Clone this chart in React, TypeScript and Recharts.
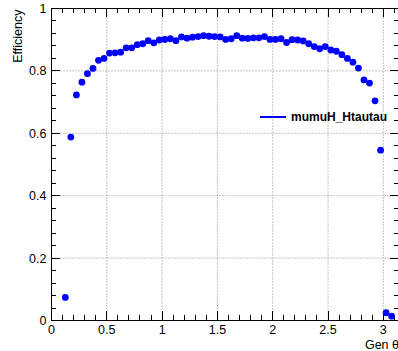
import React from "react";
import {
  ScatterChart,
  Scatter,
  XAxis,
  YAxis,
  CartesianGrid,
  Legend,
} from "recharts";

// bin centres of gen theta (rad) and the efficiency in each bin
const thetaBins = [
  0.125, 0.175, 0.225, 0.275, 0.325, 0.375, 0.425, 0.475, 0.525, 0.575,
  0.625, 0.675, 0.725, 0.775, 0.825, 0.875, 0.925, 0.975, 1.025, 1.075,
  1.125, 1.175, 1.225, 1.275, 1.325, 1.375, 1.425, 1.475, 1.525, 1.575,
  1.625, 1.675, 1.725, 1.775, 1.825, 1.875, 1.925, 1.975, 2.025, 2.075,
  2.125, 2.175, 2.225, 2.275, 2.325, 2.375, 2.425, 2.475, 2.525, 2.575,
  2.625, 2.675, 2.725, 2.775, 2.825, 2.875, 2.925, 2.975, 3.025, 3.075,
];
const efficiency = [
  0.074, 0.588, 0.723, 0.764, 0.791, 0.808, 0.834, 0.84, 0.857, 0.858,
  0.86, 0.874, 0.874, 0.884, 0.887, 0.897, 0.89, 0.899, 0.901, 0.903,
  0.897, 0.909, 0.905, 0.908, 0.91, 0.913, 0.911, 0.91, 0.909, 0.901,
  0.903, 0.913, 0.905, 0.904, 0.906, 0.906, 0.91, 0.901, 0.901, 0.903,
  0.891, 0.9, 0.899, 0.896, 0.887, 0.878, 0.871, 0.878, 0.867, 0.863,
  0.852, 0.84, 0.828, 0.809, 0.771, 0.761, 0.704, 0.546, 0.025, 0.014,
];

const xTicks = [
  0, 0.1, 0.2, 0.3, 0.4, 0.5, 0.6, 0.7, 0.8, 0.9, 1, 1.1, 1.2, 1.3, 1.4, 1.5,
  1.6, 1.7, 1.8, 1.9, 2, 2.1, 2.2, 2.3, 2.4, 2.5, 2.6, 2.7, 2.8, 2.9, 3, 3.1,
];
const xMajor = [0, 0.5, 1, 1.5, 2, 2.5, 3];
const yTicks = [
  0, 0.04, 0.08, 0.12, 0.16, 0.2, 0.24, 0.28, 0.32, 0.36, 0.4, 0.44, 0.48,
  0.52, 0.56, 0.6, 0.64, 0.68, 0.72, 0.76, 0.8, 0.84, 0.88, 0.92, 0.96, 1,
];
const yMajor = [0, 0.2, 0.4, 0.6, 0.8, 1];

const seriesName = "mumuH_Htautau";
const xTitle = "Gen θ";
const yTitle = "Efficiency";

const FONT = '"Liberation Sans", Arial, Helvetica, sans-serif';
const BLUE = "#0000ff";
const X_MAX = Math.PI;

const isMajor = (v: number, list: number[]) => list.some((m) => Math.abs(m - v) < 1e-6);

const data = thetaBins.map((theta, i) => ({ theta, eff: efficiency[i] }));

// anchor points of the frame ticks, one set per frame side
const bottomTickPts = xTicks.map((v) => ({ theta: v, eff: 0, major: isMajor(v, xMajor) }));
const topTickPts = xTicks.map((v) => ({ theta: v, eff: 1, major: isMajor(v, xMajor) }));
const leftTickPts = yTicks.map((v) => ({ theta: 0, eff: v, major: isMajor(v, yMajor) }));
const rightTickPts = yTicks.map((v) => ({ theta: X_MAX, eff: v, major: isMajor(v, yMajor) }));

// ROOT style ticks point into the frame
const tickLen = (p: any) => (p.payload && p.payload.major ? 9 : 5);
const UpTick = (p: any) => (
  <rect x={Math.floor(p.cx)} y={Math.floor(p.cy) - tickLen(p)} width={1} height={tickLen(p)} fill="#000" />
);
const DownTick = (p: any) => (
  <rect x={Math.floor(p.cx)} y={Math.floor(p.cy)} width={1} height={tickLen(p)} fill="#000" />
);
const RightwardTick = (p: any) => (
  <rect x={Math.floor(p.cx)} y={Math.floor(p.cy)} width={tickLen(p)} height={1} fill="#000" />
);
const LeftwardTick = (p: any) => (
  <rect x={Math.floor(p.cx) - tickLen(p)} y={Math.floor(p.cy)} width={tickLen(p)} height={1} fill="#000" />
);

const BottomLabel = (props: any) => {
  const v = props.payload.value;
  if (!isMajor(v, xMajor)) return <g />;
  return (
    <text x={props.x} y={Number(props.y) + 13} textAnchor="middle" fontSize={12.5} fontFamily={FONT} fill="#000">
      {String(v)}
    </text>
  );
};

const LeftLabel = (props: any) => {
  const v = props.payload.value;
  if (!isMajor(v, yMajor)) return <g />;
  return (
    <text x={Number(props.x) - 5} y={Number(props.y) + 4.5} textAnchor="end" fontSize={12.5} fontFamily={FONT} fill="#000">
      {String(v)}
    </text>
  );
};

const Dot = (props: any) => <circle cx={props.cx} cy={props.cy} r={3.4} fill={BLUE} />;

const LegendBox = () => (
  <svg width={140} height={16}>
    <line x1={1} y1={7} x2={27} y2={7} stroke={BLUE} strokeWidth={2} />
    <text x={32} y={11} fontSize={12} fontWeight="bold" fontFamily={FONT} fill="#000">
      {seriesName}
    </text>
  </svg>
);

export default function App() {
  return (
    <div
      style={{
        position: "fixed",
        left: 0,
        top: 0,
        width: 398,
        height: 351,
        overflow: "hidden",
        background: "#fff",
      }}
    >
      <ScatterChart
        width={420}
        height={351}
        margin={{ top: 7.5, right: 20, bottom: 29.5, left: 50.5 }}
      >
        <CartesianGrid
          xAxisId="b"
          yAxisId="l"
          stroke="#888"
          fill="none"
          strokeDasharray="1 2"
          verticalValues={[0.5, 1, 1.5, 2, 2.5, 3]}
          horizontalValues={[0.2, 0.4, 0.6, 0.8]}
        />
        <XAxis
          xAxisId="b"
          dataKey="theta"
          type="number"
          domain={[0, X_MAX]}
          ticks={xTicks}
          interval={0}
          height={1}
          tickSize={0}
          tickMargin={0}
          tickLine={false}
          tick={BottomLabel}
          axisLine={{ stroke: "#000" }}
          label={{
            content: (p: any) => (
              <text
                x={p.viewBox.x + p.viewBox.width}
                y={p.viewBox.y + 28.5}
                textAnchor="end"
                fontSize={12.5}
                fontFamily={FONT}
                fill="#000"
              >
                {xTitle}
              </text>
            ),
          }}
        />
        <XAxis
          xAxisId="t"
          orientation="top"
          type="number"
          domain={[0, X_MAX]}
          height={1}
          tickLine={false}
          tick={false}
          axisLine={{ stroke: "#000" }}
        />
        <YAxis
          yAxisId="l"
          dataKey="eff"
          type="number"
          domain={[0, 1]}
          ticks={yTicks}
          interval={0}
          width={1}
          tickSize={0}
          tickMargin={0}
          tickLine={false}
          tick={LeftLabel}
          axisLine={{ stroke: "#000" }}
          label={{
            content: () => (
              <text
                x={22}
                y={9.5}
                transform="rotate(-90, 22, 9.5)"
                textAnchor="end"
                fontSize={12.5}
                fontFamily={FONT}
                fill="#000"
              >
                {yTitle}
              </text>
            ),
          }}
        />
        <YAxis
          yAxisId="r"
          orientation="right"
          type="number"
          domain={[0, 1]}
          width={1}
          tickLine={false}
          tick={false}
          axisLine={{ stroke: "#000" }}
        />
        <Legend
          layout="horizontal"
          verticalAlign="middle"
          align="center"
          content={LegendBox}
          wrapperStyle={{ left: 259, top: 110, width: 140 }}
        />
        <Scatter data={bottomTickPts} xAxisId="b" yAxisId="l" shape={UpTick} isAnimationActive={false} legendType="none" />
        <Scatter data={topTickPts} xAxisId="b" yAxisId="l" shape={DownTick} isAnimationActive={false} legendType="none" />
        <Scatter data={leftTickPts} xAxisId="b" yAxisId="l" shape={RightwardTick} isAnimationActive={false} legendType="none" />
        <Scatter data={rightTickPts} xAxisId="b" yAxisId="l" shape={LeftwardTick} isAnimationActive={false} legendType="none" />
        <Scatter
          name={seriesName}
          data={data}
          xAxisId="b"
          yAxisId="l"
          shape={Dot}
          isAnimationActive={false}
        />
      </ScatterChart>
    </div>
  );
}
